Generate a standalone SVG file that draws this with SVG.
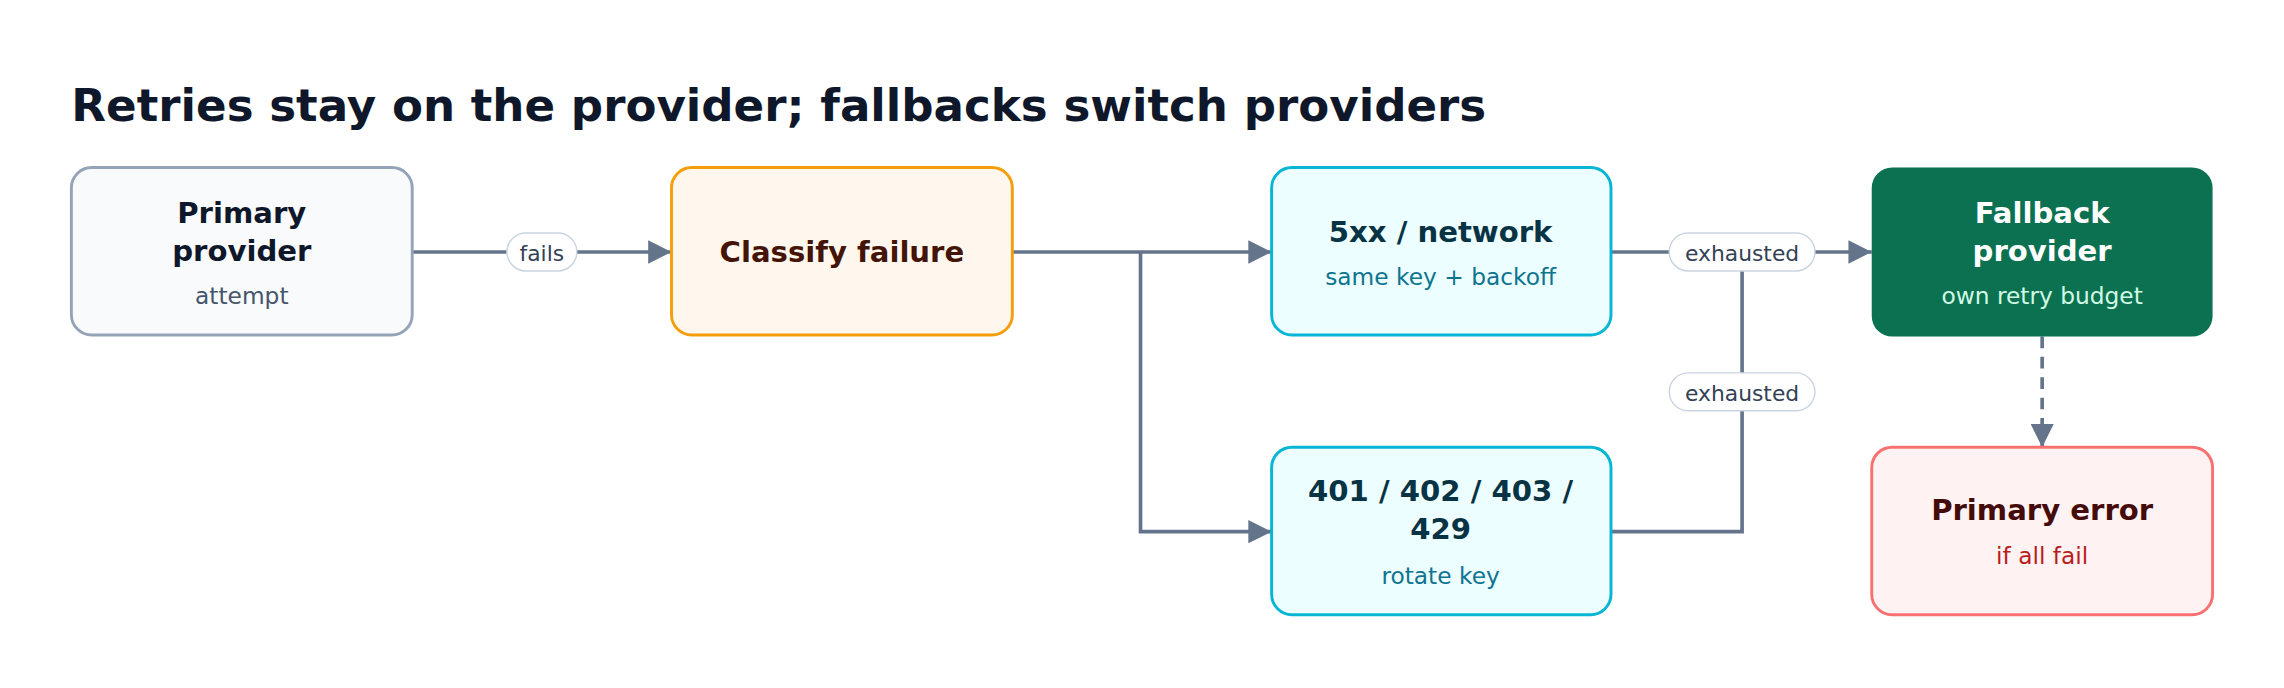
<svg xmlns="http://www.w3.org/2000/svg" width="2284" height="688" viewBox="0 0 2284 688">
<style>
text{font-family:"DejaVu Sans",sans-serif;text-anchor:middle}
.t{font-size:20px;font-weight:bold}
.s{font-size:16px}
.c{fill:none;stroke:#64748b;stroke-width:2.5}
.pill{fill:#fff;stroke:#cbd5e1;stroke-width:1}
.pl{font-size:15px;fill:#334155}
</style>
<defs>
<marker id="a" markerUnits="userSpaceOnUse" markerWidth="18" markerHeight="16" refX="16" refY="8" orient="auto"><path d="M0,0L16,8L0,16z" fill="#64748b"/></marker>
</defs>
<rect width="2284" height="688" fill="#fff"/>
<g transform="scale(1.4566)">
<text x="49" y="83" style="font-size:31px;font-weight:bold;fill:#0f172a;text-anchor:start">Retries stay on the provider; fallbacks switch providers</text>
<g id="connectors">
<path class="c" d="M283,173H461" marker-end="url(#a)"/>
<path class="c" d="M695,173H873" marker-end="url(#a)"/>
<path class="c" d="M783,173V365H873" marker-end="url(#a)"/>
<path class="c" d="M1106,173H1285" marker-end="url(#a)"/>
<path class="c" d="M1106,365H1196V173"/>
<path class="c" d="M1402,231V307" stroke-dasharray="8,6" marker-end="url(#a)"/>
<rect class="pill" x="348" y="160" width="48" height="26" rx="13"/><text class="pl" x="372" y="179">fails</text>
<rect class="pill" x="1146" y="160" width="100" height="26" rx="13"/><text class="pl" x="1196" y="179">exhausted</text>
<rect class="pill" x="1146" y="256" width="100" height="26" rx="13"/><text class="pl" x="1196" y="275">exhausted</text>
</g>
<g id="primary"><rect x="49" y="115" width="234" height="115" rx="14" fill="#f8fafc" stroke="#94a3b8" stroke-width="2"/>
<text class="t" x="166" y="153" fill="#0f172a">Primary</text><text class="t" x="166" y="179" fill="#0f172a">provider</text><text class="s" x="166" y="209" fill="#475569">attempt</text></g>
<g id="classify"><rect x="461" y="115" width="234" height="115" rx="14" fill="#fff7ed" stroke="#f59e0b" stroke-width="2"/>
<text class="t" x="578" y="180" fill="#431407">Classify failure</text></g>
<g id="net"><rect x="873" y="115" width="233" height="115" rx="14" fill="#ecfeff" stroke="#06b6d4" stroke-width="2"/>
<text class="t" x="989" y="166" fill="#083344">5xx / network</text><text class="s" x="989" y="196" fill="#0e7490">same key + backoff</text></g>
<g id="auth"><rect x="873" y="307" width="233" height="115" rx="14" fill="#ecfeff" stroke="#06b6d4" stroke-width="2"/>
<text class="t" x="989" y="344" fill="#083344">401 / 402 / 403 /</text><text class="t" x="989" y="370" fill="#083344">429</text><text class="s" x="989" y="401" fill="#0e7490">rotate key</text></g>
<g id="fallback"><rect x="1285" y="115" width="234" height="116" rx="14" fill="#0b7150"/>
<text class="t" x="1402" y="153" fill="#fff">Fallback</text><text class="t" x="1402" y="179" fill="#fff">provider</text><text class="s" x="1402" y="209" fill="#d1fae5">own retry budget</text></g>
<g id="error"><rect x="1285" y="307" width="234" height="115" rx="14" fill="#fef2f2" stroke="#f87171" stroke-width="2"/>
<text class="t" x="1402" y="357" fill="#450a0a">Primary error</text><text class="s" x="1402" y="387" fill="#b91c1c">if all fail</text></g>
</g>
</svg>
